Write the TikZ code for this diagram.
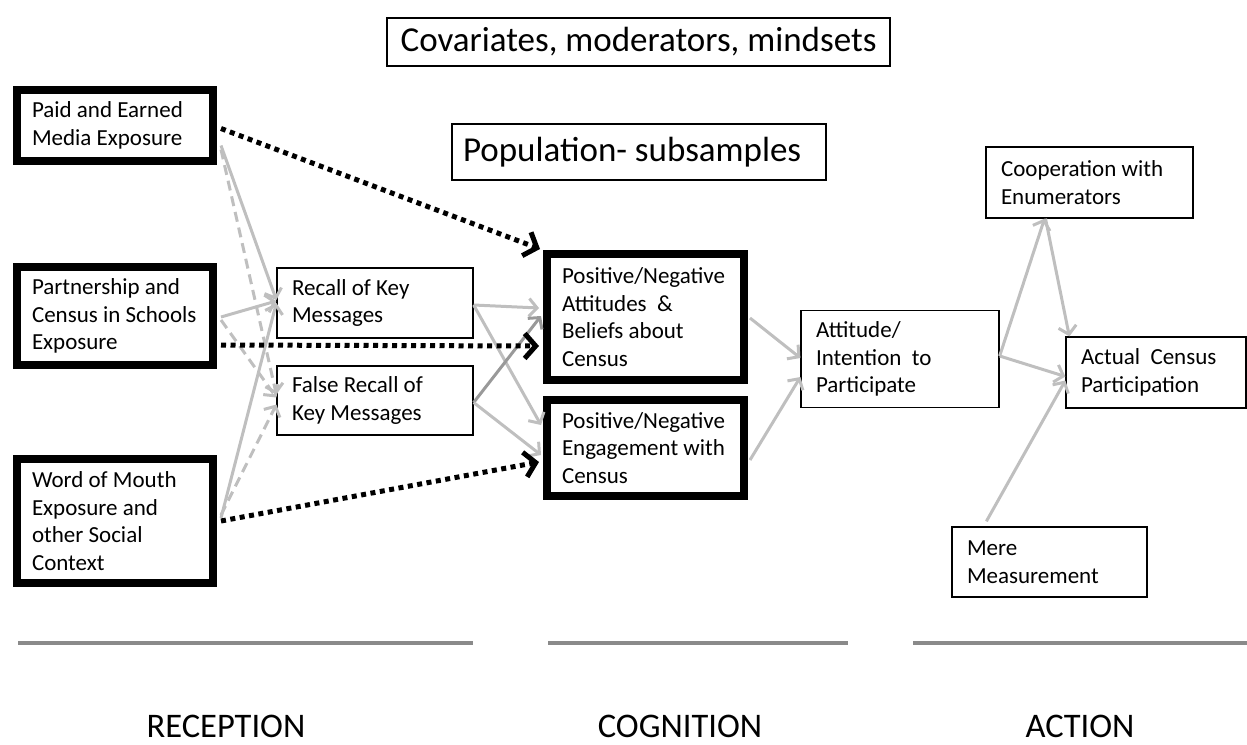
\documentclass[tikz,border=0pt]{standalone}
\usepackage{fontspec}
\setmainfont{Carlito}
\usetikzlibrary{arrows.meta,calc}
\definecolor{arrgray}{HTML}{BFBFBF}
\definecolor{arrdark}{HTML}{999999}
\definecolor{sepgray}{HTML}{8A8A8A}
\begin{document}
\begin{tikzpicture}[x=1pt,y=-1pt,
  thickbox/.style={draw=black, line width=8pt, rectangle, inner xsep=15pt, inner ysep=0pt, align=flush left, font=\fontsize{23}{27.5}\selectfont},
  thinbox/.style={draw=black, line width=1.3pt, rectangle, inner xsep=15pt, inner ysep=0pt, align=flush left, font=\fontsize{23}{27.5}\selectfont},
  bigbox/.style={draw=black, line width=1.3pt, rectangle, inner ysep=0pt, font=\fontsize{35}{40}\selectfont},
  garr/.style={draw=arrgray, line width=3pt, -{Straight Barb[length=8pt,width=18pt]}},
  gdash/.style={garr, dash pattern=on 10pt off 6pt},
  darr/.style={draw=black, line width=5pt, dash pattern=on 5pt off 4.5pt, -{Straight Barb[length=11pt,width=25pt]}},
  sepline/.style={draw=sepgray, line width=4pt},
  lab/.style={font=\fontsize{34.5}{40}\selectfont, inner sep=0pt}
]
\useasboundingbox (0,0) rectangle (1247,744);

% top boxes
\node[bigbox, minimum width=503pt, minimum height=48pt, align=center] (cov) at (638.5,42) {Covariates, moderators, mindsets};
\node[bigbox, minimum width=374pt, minimum height=56pt, inner xsep=11pt, text width=352pt, align=flush left] (pop) at (639,152) {Population- subsamples};

% reception sources
\node[thickbox, minimum width=196pt, minimum height=71pt, text width=166pt] (paid) at (115,125.5) {Paid and Earned\\Media Exposure};
\node[thickbox, minimum width=196pt, minimum height=98pt, text width=166pt] (part) at (115,316) {Partnership and\\Census in Schools\\Exposure};
\node[thickbox, minimum width=196pt, minimum height=124pt, text width=166pt] (wom) at (115,521) {Word of Mouth\\Exposure and\\other Social\\Context};

% recall
\node[thinbox, minimum width=196pt, minimum height=70pt, text width=166pt] (recall) at (375,303) {Recall of Key\\Messages};
\node[thinbox, minimum width=196pt, minimum height=69pt, text width=166pt] (fr) at (375,400.5) {False Recall of\\Key Messages};

% cognition
\node[thickbox, minimum width=197pt, minimum height=126pt, text width=167pt] (pna) at (645.5,317) {Positive/Negative\\Attitudes~~\&\\Beliefs about\\Census};
\node[thickbox, minimum width=197pt, minimum height=96pt, text width=167pt] (pne) at (645.5,448) {Positive/Negative\\Engagement with\\Census};

% action
\node[thinbox, minimum width=198pt, minimum height=97pt, text width=168pt] (intent) at (900,359) {Attitude/\\Intention~~to\\Participate};
\node[thinbox, minimum width=207pt, minimum height=71pt, text width=177pt] (coop) at (1089.5,182.5) {Cooperation with\\Enumerators};
\node[thinbox, minimum width=180pt, minimum height=71pt, text width=150pt] (actual) at (1156,372.5) {Actual~~Census\\Participation};
\node[thinbox, minimum width=195pt, minimum height=70pt, text width=165pt] (mere) at (1049.5,562) {Mere\\Measurement};

% gray arrows reception -> recall
\draw[garr] ($(paid.east)+(4,20)$) -- ($(recall.west)+(0,-3)$);
\draw[gdash] ($(paid.east)+(4,24)$) -- ($(fr.west)+(0,-6)$);
\draw[garr] ($(part.east)+(4,1)$) -- ($(recall.west)+(0,-2)$);
\draw[gdash] ($(part.east)+(4,4)$) -- ($(fr.west)+(0,-3)$);
\draw[garr] ($(wom.east)+(4,-3)$) -- (recall.west);
\draw[gdash] ($(wom.east)+(4,-6)$) -- ($(fr.west)+(0,4)$);

% recall -> cognition
\draw[garr] ($(recall.east)+(0,2)$) -- ($(pna.west)+(-4,-9)$);
\draw[garr] ($(recall.east)+(0,2)$) -- ($(pne.west)+(-2,-23)$);
\draw[garr, draw=arrdark] ($(fr.east)+(0,2)$) -- ($(pna.west)+(-2,-1)$);
\draw[garr] ($(fr.east)+(0,2)$) -- ($(pne.west)+(-2,7)$);

% dotted black
\draw[darr] ($(paid.east)+(4,3)$) -- ($(pna.north west)+(-3,-1)$);
\draw[darr] ($(part.east)+(4,29)$) -- ($(pna.west)+(-4,29)$);
\draw[darr] ($(wom.east)+(4,0)$) -- ($(pne.west)+(-4,14)$);

% cognition -> action
\draw[garr] ($(pna.east)+(2,1)$) -- ($(intent.west)+(0,-1)$);
\draw[garr] ($(pne.east)+(2,12)$) -- ($(intent.west)+(0,18)$);
\draw[garr] ($(intent.east)+(0,-3)$) -- ($(coop.south)+(-45,0)$);
\draw[garr] ($(intent.east)+(0,-3)$) -- ($(actual.west)+(0,4)$);
\draw[garr] ($(coop.south)+(-44,0)$) -- ($(actual.north west)+(4,0)$);
\draw[garr] ($(mere.north west)+(35,-5)$) -- ($(actual.west)+(0,8)$);

% separators and labels
\draw[sepline] (18,643) -- (473,643);
\draw[sepline] (548,643) -- (848,643);
\draw[sepline] (913,643) -- (1247,643);
\node[lab] (rec) at (226,726) {RECEPTION};
\node[lab] (cog) at (680,726) {COGNITION};
\node[lab] (act) at (1080,726) {ACTION};
\end{tikzpicture}
\end{document}
